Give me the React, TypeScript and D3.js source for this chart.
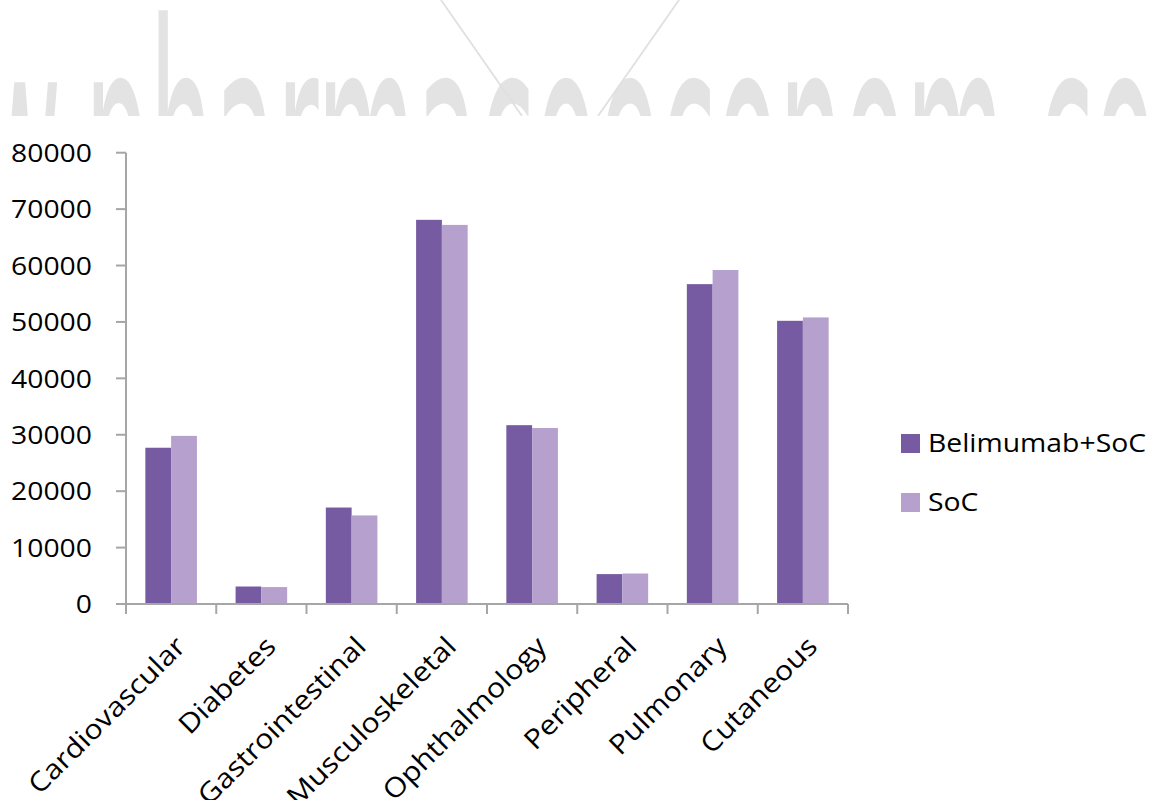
import React from "react";
import * as d3 from "d3";

const categories = [
  "Cardiovascular",
  "Diabetes",
  "Gastrointestinal",
  "Musculoskeletal",
  "Ophthalmology",
  "Peripheral",
  "Pulmonary",
  "Cutaneous",
];
const seriesNames = ["Belimumab+SoC", "SoC"];
const belimumabValues = [27700, 3100, 17100, 68100, 31700, 5300, 56700, 50200];
const socValues = [29800, 3000, 15700, 67200, 31200, 5400, 59200, 50800];
const yTicks = [0, 10000, 20000, 30000, 40000, 50000, 60000, 70000, 80000];
const watermarkText = "www.pharmacoeconom.com";

const colors = ["#765BA3", "#B5A0CE"];
const axisColor = "#A6A6A6";
const FONT = "'Open Sans', sans-serif";
const FS = 26;
const SX = 1.09;
const XFS = 27;
const XSX = 1.12;

export default function App() {
  const W = 1158;
  const H = 800;
  const left = 126;
  const right = 848;
  const top = 152.7;
  const bottom = 604;

  const x0 = d3.scaleBand<string>().domain(categories).range([left, right]).paddingInner(0).paddingOuter(0);
  const x1 = d3
    .scaleBand<string>()
    .domain(seriesNames)
    .range([0, x0.bandwidth()])
    .paddingInner(0)
    .paddingOuter(0.75);
  const y = d3.scaleLinear().domain([0, 80000]).range([bottom, top]);

  const series = [belimumabValues, socValues];

  return (
    <svg
      width={W}
      height={H}
      viewBox={`0 0 ${W} ${H}`}
      style={{ position: "absolute", left: 0, top: 0, background: "#fff" }}
    >
      <rect x={0} y={0} width={W} height={H} fill="#fff" />
      {/* watermark, cut off by the plot area */}
      <svg x={0} y={0} width={W} height={116} overflow="hidden">
        <text
          transform={`translate(-189,267) scale(0.302,1)`}
          fontFamily="'DejaVu Sans', sans-serif"
          fontSize={338}
          fill="#E3E3E3"
        >
          {watermarkText}
        </text>
        <line x1={441} y1={0} x2={522} y2={116} stroke="#E0E0E0" strokeWidth={1.8} />
        <line x1={679} y1={0} x2={598} y2={116} stroke="#E0E0E0" strokeWidth={1.8} />
      </svg>

      {/* bars */}
      {categories.map((c, i) => (
        <g key={c} transform={`translate(${x0(c)},0)`}>
          {seriesNames.map((s, j) => {
            const v = series[j][i];
            return (
              <rect
                key={s}
                x={x1(s)}
                y={y(v)}
                width={x1.bandwidth()}
                height={bottom - y(v)}
                fill={colors[j]}
              />
            );
          })}
        </g>
      ))}

      {/* y axis */}
      <line x1={left} y1={top} x2={left} y2={bottom + 9} stroke={axisColor} strokeWidth={2} />
      {yTicks.map((t) => (
        <g key={t}>
          <line x1={left - 10} x2={left} y1={y(t)} y2={y(t)} stroke={axisColor} strokeWidth={2} />
          <text
            transform={`translate(92,${y(t) + 9.3}) scale(${SX},1)`}
            textAnchor="end"
            fontFamily={FONT}
            fontSize={FS}
            fill="#000"
          >
            {t}
          </text>
        </g>
      ))}

      {/* x axis */}
      <line x1={left} y1={bottom} x2={right} y2={bottom} stroke={axisColor} strokeWidth={2} />
      {[...categories.map((c) => x0(c) as number), right].map((xv, i) => (
        <line key={i} x1={xv} x2={xv} y1={bottom} y2={bottom + 10} stroke={axisColor} strokeWidth={2} />
      ))}
      {categories.map((c) => {
        const cx = (x0(c) as number) + x0.bandwidth() / 2;
        return (
          <text
            key={c}
            transform={`translate(${cx + 16},648) rotate(-45) scale(${XSX},1)`}
            textAnchor="end"
            fontFamily={FONT}
            fontSize={XFS}
            fill="#000"
          >
            {c}
          </text>
        );
      })}

      {/* legend */}
      {seriesNames.map((s, j) => (
        <g key={s}>
          <rect x={901} y={434 + j * 59} width={19} height={19} fill={colors[j]} />
          <text
            transform={`translate(928,${452 + j * 59}) scale(${SX},1)`}
            fontFamily={FONT}
            fontSize={FS}
            fill="#000"
          >
            {s}
          </text>
        </g>
      ))}
    </svg>
  );
}
